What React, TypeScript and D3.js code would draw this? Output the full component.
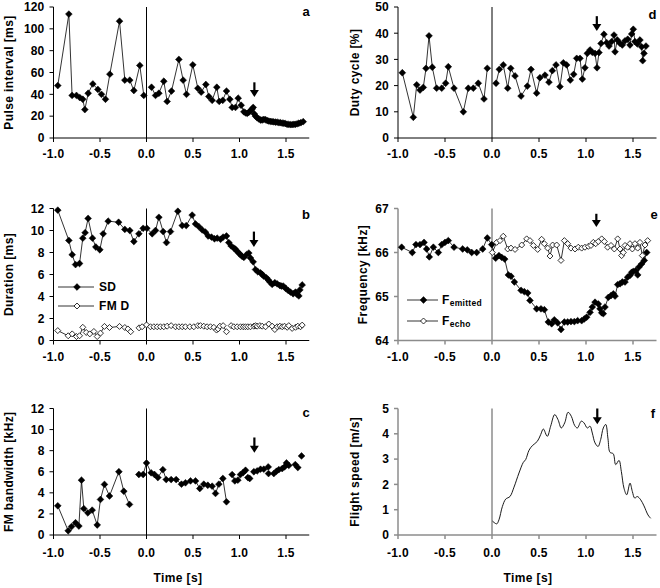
import React from "react";
import * as d3 from "d3";

type P = [number, number | null];

const X_TICKS = [-1, -0.5, 0, 0.5, 1, 1.5];

// Panel a: pulse interval [ms]
const pulseInterval: P[] = [
  [-0.954, 48], [-0.835, 113.5], [-0.8, 39], [-0.753, 39], [-0.717, 37], [-0.685, 35.5], [-0.663, 26],
  [-0.627, 41], [-0.577, 49.5], [-0.523, 44.5], [-0.484, 40], [-0.441, 35.5], [-0.394, 58.5], [-0.29, 107],
  [-0.233, 53], [-0.18, 53], [-0.136, 43.5], [-0.072, 66.5], [-0.029, 39], [0.01, null],
  [0.054, 46.5], [0.097, 39], [0.133, 41], [0.186, 52], [0.222, 33.5], [0.269, 43], [0.348, 72], [0.394, 53],
  [0.43, 40], [0.498, 67], [0.552, 45.5], [0.588, 42], [0.638, 49], [0.67, 38], [0.706, 34.5], [0.756, 46.5],
  [0.782, 33.5], [0.82, 34.5], [0.86, 43], [0.896, 35.5], [0.921, 28], [0.957, 28], [0.986, 36.5], [1.018, 30],
  [1.047, 24], [1.065, 23], [1.083, 22.5], [1.1, 23.5], [1.118, 25], [1.135, 26.5], [1.147, 28], [1.16, 22],
  [1.172, 20], [1.19, 18.5], [1.208, 17.5], [1.226, 16.5], [1.244, 16.5], [1.262, 17], [1.28, 16.8], [1.298, 16],
  [1.315, 15.5], [1.333, 15.2], [1.35, 15], [1.368, 14.8], [1.387, 14.5], [1.405, 14.5], [1.423, 14], [1.441, 14],
  [1.459, 13.6], [1.477, 13.5], [1.495, 13.2], [1.512, 12.5], [1.53, 12.5], [1.548, 12.2], [1.566, 12.3],
  [1.584, 12.5], [1.6, 12.5], [1.62, 13], [1.638, 13.5], [1.66, 14], [1.685, 15],
];

// Panel d: duty cycle [%]
const dutyCycle: P[] = [
  [-0.954, 24.9], [-0.837, 7.9], [-0.801, 20.3], [-0.766, 18.3], [-0.731, 19.3], [-0.702, 26.6], [-0.67, 39],
  [-0.635, 27], [-0.589, 19], [-0.535, 19], [-0.493, 20.9], [-0.465, 27.2], [-0.404, 19], [-0.305, 10],
  [-0.252, 19], [-0.199, 19], [-0.146, 20.9], [-0.085, 14.9], [-0.05, 26.6], [0, null],
  [0.043, 20.9], [0.078, 26.2], [0.12, 27.9], [0.167, 19], [0.199, 26.6], [0.245, 23.7], [0.309, 16],
  [0.376, 19.8], [0.415, 26.2], [0.475, 17.1], [0.51, 23], [0.564, 24], [0.606, 21.3], [0.642, 25.7],
  [0.681, 27.9], [0.723, 19.6], [0.759, 28.7], [0.794, 27.9], [0.833, 22.1], [0.869, 24.3], [0.901, 30.4],
  [0.936, 30.4], [0.961, 22.5], [0.989, 26.8], [1.014, 32.3], [1.043, 33.6], [1.067, 32.7], [1.096, 32.3],
  [1.117, 26.8], [1.138, 32.6], [1.16, 36.1], [1.191, 39.6], [1.22, 36.4], [1.245, 35.1], [1.273, 36.8],
  [1.298, 39.3], [1.309, 32.9], [1.333, 37.4], [1.362, 36.1], [1.386, 35.5], [1.415, 37.1], [1.444, 37.7],
  [1.468, 35.5], [1.486, 39.7], [1.503, 41.5], [1.521, 36.8], [1.546, 35.9], [1.574, 37.4], [1.592, 34.8],
  [1.603, 29.5], [1.617, 32.3], [1.638, 35.1],
];

// Panel b: duration [ms]
const durationSD: P[] = [
  [-0.954, 11.85], [-0.835, 9.1], [-0.799, 7.8], [-0.763, 6.9], [-0.72, 7.0], [-0.685, 9.3], [-0.66, 9.8],
  [-0.628, 11.1], [-0.581, 9.3], [-0.545, 8.5], [-0.502, 8.25], [-0.466, 9.7], [-0.412, 10.85], [-0.3, 10.75],
  [-0.233, 10.1], [-0.18, 10.0], [-0.136, 9.0], [-0.082, 9.7], [-0.036, 10.2], [0.004, 10.2],
  [0.061, 9.7], [0.097, 10.0], [0.133, 11.2], [0.179, 9.9], [0.215, 8.9], [0.258, 9.9], [0.337, 11.75],
  [0.384, 10.45], [0.427, 10.45], [0.491, 11.4], [0.527, 10.6], [0.563, 10.35], [0.599, 10.05], [0.634, 9.85],
  [0.663, 9.5], [0.699, 9.4], [0.731, 9.25], [0.76, 9.3], [0.796, 9.2], [0.824, 9.4], [0.86, 9.5], [0.885, 8.9],
  [0.91, 8.6], [0.939, 8.4], [0.957, 8.3], [0.975, 8.1], [0.993, 7.95], [1.01, 7.8], [1.028, 7.65], [1.047, 7.55],
  [1.075, 7.8], [1.1, 7.95], [1.118, 7.5], [1.147, 7.15], [1.172, 6.45], [1.197, 6.25], [1.226, 6.15],
  [1.245, 6.0], [1.261, 5.85], [1.29, 5.7], [1.31, 5.5], [1.326, 5.33], [1.351, 5.1], [1.38, 5.25], [1.405, 5.15],
  [1.434, 5.0], [1.45, 4.95], [1.47, 4.95], [1.495, 4.75], [1.523, 4.55], [1.548, 4.4], [1.577, 4.25],
  [1.602, 4.4], [1.62, 4.2], [1.638, 4.05], [1.649, 4.6], [1.674, 5.05],
];

const durationFMD: P[] = [
  [-0.954, 0.9], [-0.842, 0.43], [-0.799, 0.6], [-0.753, 0.36], [-0.72, 0.43], [-0.685, 1.2], [-0.648, 0.73],
  [-0.61, 0.6], [-0.566, 0.82], [-0.53, 0.36], [-0.495, 0.67], [-0.452, 1.28], [-0.398, 1.18], [-0.29, 1.28],
  [-0.233, 1.18], [-0.2, 1.05], [-0.17, 0.8], [-0.13, null],
  [-0.08, 1.15], [-0.047, 1.25], [0.0, 1.42], [0.043, 1.25], [0.079, 1.25], [0.115, 1.25], [0.15, 1.25],
  [0.186, 1.25], [0.222, 1.3], [0.265, 1.35], [0.312, 1.25], [0.348, 1.25], [0.384, 1.25], [0.419, 1.25],
  [0.466, 1.25], [0.509, 1.25], [0.552, 1.35], [0.58, 1.35], [0.616, 1.3], [0.652, 1.25], [0.688, 1.25],
  [0.724, 1.2], [0.753, 0.95], [0.77, 1.05], [0.789, 1.3], [0.824, 1.35], [0.86, 0.8], [0.885, null],
  [0.91, 1.35], [0.939, 1.25], [0.975, 1.25], [1.011, 1.25], [1.04, 1.25], [1.064, 1.25], [1.09, 1.25],
  [1.118, 1.25], [1.154, 1.3], [1.172, 1.35], [1.19, 1.3], [1.219, 1.35], [1.244, 1.3], [1.28, 1.25],
  [1.315, 1.5], [1.351, 1.3], [1.38, 1.0], [1.405, 1.25], [1.434, 1.3], [1.459, 1.25], [1.484, 1.3],
  [1.513, 1.2], [1.53, 1.35], [1.566, 1.1], [1.602, 1.2], [1.627, 1.3], [1.656, 1.25], [1.674, 1.4],
];

// Panel e: frequency [kHz]
const freqEmitted: P[] = [
  [-0.961, 66.12], [-0.848, 66.0], [-0.809, 66.18], [-0.766, 66.18], [-0.723, 66.23], [-0.695, 66.08],
  [-0.667, 65.9], [-0.624, 66.12], [-0.571, 66.0], [-0.535, 66.18], [-0.5, 66.23], [-0.465, 66.27],
  [-0.404, 66.12], [-0.312, 66.08], [-0.263, 66.06], [-0.216, 66.0], [-0.163, 66.0], [-0.099, 66.08],
  [-0.05, 66.33], [-0.003, 66.18], [0.039, 65.87], [0.074, 65.93], [0.103, 65.89], [0.135, 65.85],
  [0.174, 65.49], [0.202, 65.46], [0.238, 65.33], [0.309, 65.14], [0.344, 65.11], [0.38, 65.08], [0.404, 64.91],
  [0.475, 64.72], [0.521, 64.72], [0.557, 64.7], [0.599, 64.42], [0.635, 64.38], [0.663, 64.47], [0.699, 64.4],
  [0.734, 64.25], [0.77, 64.42], [0.805, 64.42], [0.84, 64.43], [0.876, 64.43], [0.911, 64.45], [0.954, 64.45],
  [0.982, 64.49], [1.007, 64.53], [1.043, 64.64], [1.067, 64.76], [1.096, 64.87], [1.131, 64.83], [1.149, 64.72],
  [1.167, 64.63], [1.184, 64.61], [1.202, 64.76], [1.238, 64.98], [1.266, 65.02], [1.291, 65.06], [1.309, 65.01],
  [1.337, 65.27], [1.362, 65.29], [1.387, 65.33], [1.415, 65.33], [1.443, 65.44], [1.468, 65.48], [1.486, 65.55],
  [1.503, 65.57], [1.529, 65.59], [1.55, 65.49], [1.564, 65.67], [1.592, 65.74], [1.62, 65.82], [1.646, 66.0],
];

const freqEcho: P[] = [
  [0.003, 66.0], [0.05, 66.23], [0.085, 66.27], [0.12, 66.37], [0.167, 66.08], [0.202, 66.1], [0.245, 66.07],
  [0.316, 66.17], [0.369, 66.31], [0.404, 66.27], [0.44, 66.16], [0.486, 66.07], [0.528, 66.3], [0.557, 66.2],
  [0.592, 66.1], [0.617, 65.92], [0.645, 66.17], [0.688, 66.17], [0.734, 65.82], [0.77, 66.27], [0.805, 66.2],
  [0.84, 66.1], [0.883, 66.08], [0.918, 66.12], [0.954, 66.1], [0.989, 66.12], [1.025, 66.14], [1.053, 66.16],
  [1.078, 66.23], [1.103, 66.2], [1.131, 66.25], [1.167, 66.31], [1.195, 66.25], [1.23, 66.12], [1.266, 66.16],
  [1.301, 66.08], [1.337, 66.31], [1.362, 66.08], [1.379, 65.93], [1.397, 66.0], [1.415, 66.16], [1.443, 66.12],
  [1.468, 66.2], [1.493, 66.08], [1.521, 66.2], [1.55, 66.1], [1.574, 66.23], [1.599, 65.93], [1.628, 66.17],
  [1.656, 66.27],
];

// Panel c: FM bandwidth [kHz]
const fmBandwidth: P[] = [
  [-0.954, 2.77], [-0.842, 0.4], [-0.806, 0.8], [-0.763, 1.16], [-0.727, 0.85], [-0.699, 5.2], [-0.674, 2.5],
  [-0.631, 2.1], [-0.584, 2.36], [-0.53, 0.95], [-0.495, 3.37], [-0.452, 4.8], [-0.398, 3.7], [-0.297, 6.0],
  [-0.244, 4.15], [-0.183, 2.9], [-0.13, null],
  [-0.082, 5.74], [-0.036, 5.74], [0.0, 6.84], [0.05, 5.9], [0.086, 5.74], [0.122, 5.45], [0.176, 6.2],
  [0.212, 5.26], [0.265, 5.26], [0.319, 5.26], [0.376, 4.82], [0.419, 4.95], [0.473, 5.13], [0.527, 5.13],
  [0.573, 4.41], [0.616, 4.82], [0.659, 4.72], [0.706, 4.63], [0.742, 3.94], [0.778, 4.82], [0.821, 5.36],
  [0.86, 3.15], [0.89, null],
  [0.921, 5.73], [0.95, 5.13], [0.982, 5.2], [1.01, 5.73], [1.04, 5.93], [1.065, 6.14], [1.078, null],
  [1.09, 5.45], [1.11, 5.36], [1.13, null],
  [1.154, 6.0], [1.19, 6.08], [1.226, 6.24], [1.261, 6.24], [1.28, null],
  [1.309, 6.46], [1.305, null], [1.312, 5.83], [1.34, null],
  [1.369, 5.83], [1.398, 6.05], [1.423, 6.2], [1.459, 6.3], [1.484, 6.46], [1.495, null],
  [1.505, 6.84], [1.53, 6.6], [1.56, null],
  [1.6, 6.68], [1.627, 6.4], [1.645, null],
  [1.667, 7.5],
];

// Panel f: flight speed [m/s]
const flightSpeed: P[] = [
  [0.005, 0.55], [0.05, 0.44], [0.074, 0.6], [0.11, 1.12], [0.146, 1.42], [0.191, 1.52], [0.234, 1.89],
  [0.287, 2.45], [0.333, 2.87], [0.358, 2.98], [0.394, 3.35], [0.429, 3.53], [0.482, 3.7], [0.518, 3.97],
  [0.546, 4.19], [0.588, 3.9], [0.624, 4.3], [0.667, 4.76], [0.702, 4.56], [0.737, 4.23], [0.773, 4.43],
  [0.809, 4.85], [0.844, 4.69], [0.879, 4.33], [0.908, 4.23], [0.95, 4.5], [0.979, 4.43], [1.014, 4.23],
  [1.043, 4.3], [1.067, 4.03], [1.096, 3.64], [1.128, 3.5], [1.156, 3.77], [1.184, 4.23], [1.21, 4.37],
  [1.234, 3.8], [1.255, 3.27], [1.29, 3.21], [1.316, 2.78], [1.351, 2.95], [1.376, 2.51], [1.404, 1.85],
  [1.433, 1.59], [1.468, 2.05], [1.493, 1.72], [1.518, 1.46], [1.546, 1.52], [1.582, 1.39], [1.617, 1.15],
  [1.66, 0.79], [1.688, 0.66],
];

const FONT = "'Liberation Sans', Arial, Helvetica, sans-serif";
const fmtX = (v: number) => v.toFixed(1);

type Marker = "filled" | "open" | "none";
interface Series { data: P[]; marker: Marker; smooth?: boolean; }
interface Arrow { t: number; from: number; to: number; }
interface LegendItem { label: string; sub?: string; marker: Marker; y: number; }

const diamond = (r: number) => `M0,${-r}L${r},0L0,${r}L${-r},0Z`;

function MarkerShape({ kind, cx, cy }: { kind: Marker; cx: number; cy: number }) {
  if (kind === "none") return null;
  return (
    <path
      d={diamond(kind === "filled" ? 3.4 : 3)}
      transform={`translate(${cx},${cy})`}
      fill={kind === "filled" ? "#000" : "#fff"}
      stroke="#000"
      strokeWidth={kind === "filled" ? 0.5 : 0.8}
    />
  );
}

interface PanelProps {
  left: number; right: number; top: number; bottom: number;
  yDomain: [number, number]; yTicks: number[]; yLabel: string; yLabelX: number;
  letter: string; letterX: number; letterY: number;
  axisColor: string; axisWidth: number;
  arrow: Arrow; series: Series[];
  legend?: { x1: number; x2: number; textX: number; items: LegendItem[] };
  tickDy: number;
}

function Panel(p: PanelProps) {
  const x = d3.scaleLinear().domain([-1, 1.75]).range([p.left, p.right]);
  const y = d3.scaleLinear().domain(p.yDomain).range([p.bottom, p.top]);
  const x0 = x(-1);
  const ax = x(p.arrow.t);
  const ayTop = y(p.arrow.from);
  const ayTip = y(p.arrow.to);
  const headH = 7;
  return (
    <g fontFamily={FONT} fontWeight="bold">
      <line x1={x0} x2={x0} y1={p.bottom} y2={p.top} stroke={p.axisColor} strokeWidth={p.axisWidth} />
      <line x1={x0} x2={x(1.75)} y1={p.bottom} y2={p.bottom} stroke={p.axisColor} strokeWidth={p.axisWidth} />
      <line x1={x(0)} x2={x(0)} y1={p.bottom} y2={p.top} stroke={p.axisColor} strokeWidth={p.axisWidth} />
      {p.yTicks.map((t) => (
        <g key={"y" + t}>
          <line x1={x0 - 4} x2={x0} y1={y(t)} y2={y(t)} stroke={p.axisColor} strokeWidth={p.axisWidth} />
          <text x={x0 - 9} y={y(t)} dy="0.36em" textAnchor="end" fontSize={12} fill="#000" letterSpacing={0.2}>{t}</text>
        </g>
      ))}
      {X_TICKS.map((t) => (
        <g key={"x" + t}>
          <line x1={x(t)} x2={x(t)} y1={p.bottom} y2={p.bottom + 4} stroke={p.axisColor} strokeWidth={p.axisWidth} />
          <text x={x(t)} y={p.bottom + p.tickDy} textAnchor="middle" fontSize={12} fill="#000" letterSpacing={0.3}>{fmtX(t)}</text>
        </g>
      ))}
      <text
        transform={`translate(${p.yLabelX},${(p.top + p.bottom) / 2}) rotate(-90)`}
        textAnchor="middle" fontSize={12} letterSpacing={0.4} fill="#000"
      >{p.yLabel}</text>
      <text x={p.letterX} y={p.letterY} textAnchor="middle" fontSize={13} fill="#000">{p.letter}</text>
      {p.series.map((s, i) => {
        const gen = d3.line<P>()
          .defined((d) => d[1] !== null)
          .x((d) => x(d[0]))
          .y((d) => y(d[1] as number));
        if (s.smooth) gen.curve(d3.curveCatmullRom.alpha(0.5));
        return <path key={"l" + i} d={gen(s.data) || ""} fill="none" stroke="#000" strokeWidth={s.smooth ? 0.9 : 0.8} />;
      })}
      {p.series.map((s, i) => (
        <g key={"m" + i}>
          {s.data.filter((d) => d[1] !== null).map((d, j) => (
            <MarkerShape key={j} kind={s.marker} cx={x(d[0])} cy={y(d[1] as number)} />
          ))}
        </g>
      ))}
      <rect x={ax - 1.1} y={ayTop} width={2.2} height={ayTip - ayTop - headH + 1} fill="#000" />
      <path d={`M${ax - 4.5},${ayTip - headH}L${ax + 4.5},${ayTip - headH}L${ax},${ayTip}Z`} fill="#000" />
      {p.legend && p.legend.items.map((it, i) => (
        <g key={"lg" + i}>
          <line x1={p.legend!.x1} x2={p.legend!.x2} y1={it.y} y2={it.y} stroke="#000" strokeWidth={0.8} />
          <MarkerShape kind={it.marker} cx={(p.legend!.x1 + p.legend!.x2) / 2 + 1} cy={it.y} />
          <text x={p.legend!.textX} y={it.y + 4.3} fontSize={12} fill="#000" letterSpacing={0.3}>
            {it.label}
            {it.sub && <tspan fontSize={8.5} dy={2}>{it.sub}</tspan>}
          </text>
        </g>
      ))}
    </g>
  );
}

const LEFT = { left: 53.5, right: 309.25 };
const RIGHT = { left: 398, right: 656.5 };
const ROW1 = { top: 7, bottom: 138 };
const ROW2 = { top: 208.5, bottom: 340.5 };
const ROW3 = { top: 408.5, bottom: 535 };

export default function App() {
  return (
    <div style={{ position: "absolute", left: 0, top: 0 }}>
      <svg width={660} height={588} style={{ display: "block", background: "#fff" }}>
        <Panel {...LEFT} {...ROW1} yDomain={[0, 120]} yTicks={[0, 20, 40, 60, 80, 100, 120]}
          yLabel="Pulse interval [ms]" yLabelX={13} letter="a" letterX={306} letterY={16}
          axisColor="#000" axisWidth={1} tickDy={20}
          arrow={{ t: 1.16, from: 51, to: 37.5 }}
          series={[{ data: pulseInterval, marker: "filled" }]} />
        <Panel {...RIGHT} {...ROW1} yDomain={[0, 50]} yTicks={[0, 10, 20, 30, 40, 50]}
          yLabel="Duty cycle [%]" yLabelX={359} letter="d" letterX={652.5} letterY={19}
          axisColor="#000" axisWidth={1} tickDy={20}
          arrow={{ t: 1.115, from: 46.5, to: 40.8 }}
          series={[{ data: dutyCycle, marker: "filled" }]} />
        <Panel {...LEFT} {...ROW2} yDomain={[0, 12]} yTicks={[0, 2, 4, 6, 8, 10, 12]}
          yLabel="Duration [ms]" yLabelX={13} letter="b" letterX={306} letterY={219}
          axisColor="#000" axisWidth={1} tickDy={20}
          arrow={{ t: 1.155, from: 9.9, to: 8.5 }}
          series={[{ data: durationSD, marker: "filled" }, { data: durationFMD, marker: "open" }]}
          legend={{ x1: 58, x2: 94, textX: 99, items: [
            { label: "SD", marker: "filled", y: 287 },
            { label: "FM D", marker: "open", y: 306 },
          ] }} />
        <Panel {...RIGHT} {...ROW2} yDomain={[64, 67]} yTicks={[64, 65, 66, 67]}
          yLabel="Frequency [kHz]" yLabelX={367} letter="e" letterX={654} letterY={219}
          axisColor="#8c8c8c" axisWidth={1.5} tickDy={20}
          arrow={{ t: 1.11, from: 66.88, to: 66.58 }}
          series={[{ data: freqEmitted, marker: "filled" }, { data: freqEcho, marker: "open" }]}
          legend={{ x1: 407, x2: 438, textX: 442, items: [
            { label: "F", sub: "emitted", marker: "filled", y: 300 },
            { label: "F", sub: "echo", marker: "open", y: 321 },
          ] }} />
        <Panel {...LEFT} {...ROW3} yDomain={[0, 12]} yTicks={[0, 2, 4, 6, 8, 10, 12]}
          yLabel="FM bandwidth [kHz]" yLabelX={13} letter="c" letterX={306} letterY={417}
          axisColor="#000" axisWidth={1} tickDy={22}
          arrow={{ t: 1.16, from: 9.25, to: 7.8 }}
          series={[{ data: fmBandwidth, marker: "filled" }]} />
        <Panel {...RIGHT} {...ROW3} yDomain={[0, 5]} yTicks={[0, 1, 2, 3, 4, 5]}
          yLabel="Flight speed [m/s]" yLabelX={359} letter="f" letterX={653} letterY={418}
          axisColor="#8c8c8c" axisWidth={1.5} tickDy={22}
          arrow={{ t: 1.12, from: 5.0, to: 4.38 }}
          series={[{ data: flightSpeed, marker: "none", smooth: true }]} />
        <text x={178} y={582} textAnchor="middle" fontFamily={FONT} fontWeight="bold" fontSize={12} letterSpacing={0.4}>Time [s]</text>
        <text x={528} y={582} textAnchor="middle" fontFamily={FONT} fontWeight="bold" fontSize={12} letterSpacing={0.4}>Time [s]</text>
      </svg>
    </div>
  );
}
